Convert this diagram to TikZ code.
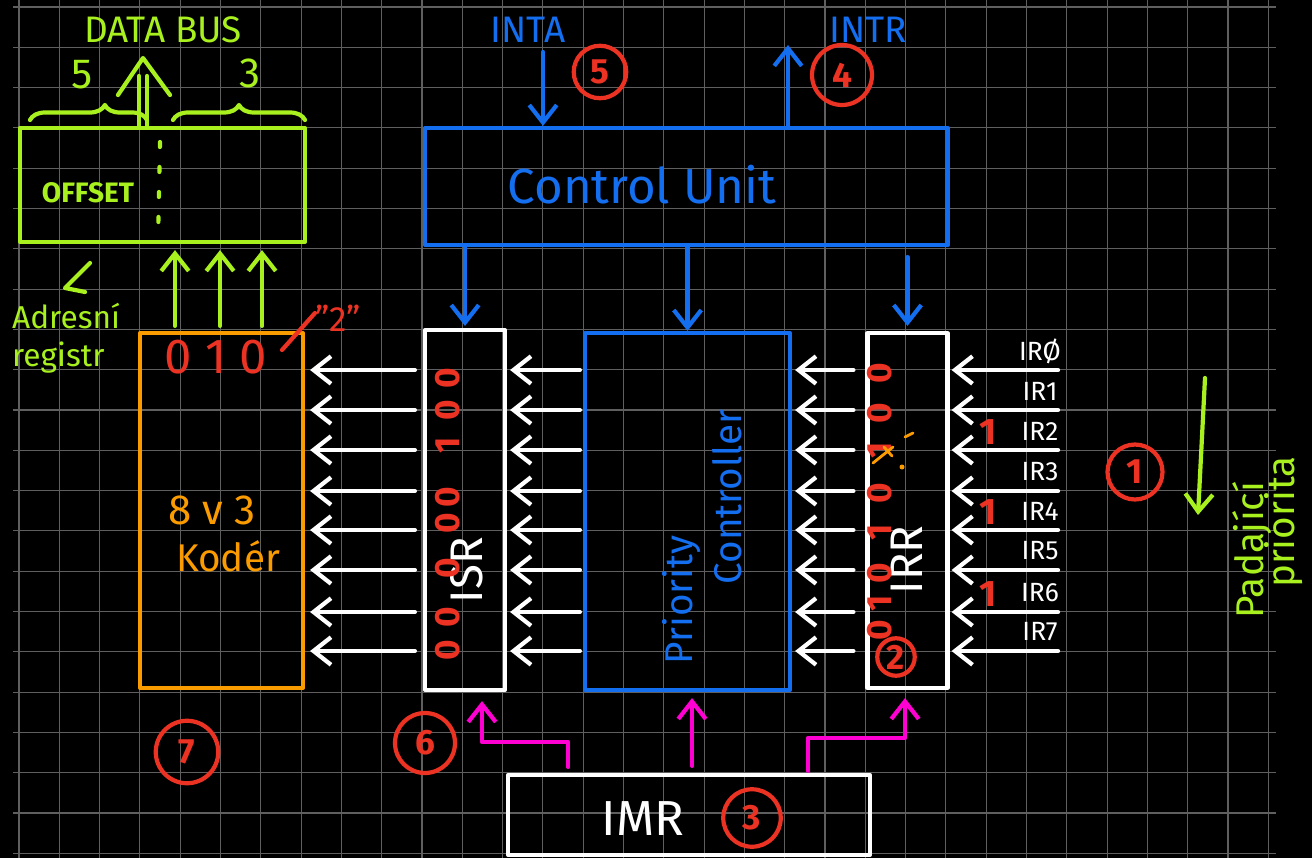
\documentclass[tikz,border=0pt]{standalone}
\usepackage{fontspec}
\setmainfont{Fira Sans}
\usetikzlibrary{arrows.meta,decorations.pathreplacing}

\definecolor{inkgreen}{RGB}{168,240,30}
\definecolor{inkblue}{RGB}{20,110,240}
\definecolor{inkred}{RGB}{235,50,35}
\definecolor{inkorange}{RGB}{250,155,0}
\definecolor{inkpink}{RGB}{255,0,210}
\definecolor{gridgray}{RGB}{95,95,95}

\begin{document}
\begin{tikzpicture}[x=0.02cm,y=-0.02cm,
  ink/.style={line width=2.4pt,line cap=round,line join=round},
  tip/.style={-{Straight Barb[length=3.5mm,width=5.5mm]}},
  box/.style={draw,ink,inner sep=0pt},
  gridline/.style={draw=gridgray,line width=0.6pt},
  num/.style={circle,draw=inkred,text=inkred,line width=2.4pt,inner sep=0pt,font=\fontsize{20}{20}\selectfont\bfseries},
  bit/.style={text=inkred,rotate=90,font=\fontsize{20}{20}\selectfont\bfseries},
  lbl/.style={font=\fontsize{#1}{#1}\selectfont},
  blbl/.style={font=\fontsize{#1}{#1}\selectfont\bfseries}]
  \fill[black] (0,0) rectangle (1312,858);
  \useasboundingbox (0,0) rectangle (1312,858);
  \foreach \k in {0,...,31} \draw[gridline] ({19+40.3*\k},0) -- ({19+40.3*\k},858);
  \foreach \k in {0,...,21} \draw[gridline] (13,{7+40.3*\k}) -- (1276,{7+40.3*\k});

  \node[box,draw=inkgreen,minimum width=5.7cm,minimum height=2.28cm] (off) at (162.5,185) {};
  \node[box,draw=inkblue,minimum width=10.46cm,minimum height=2.34cm] (ctrl) at (686.5,186.5) {};
  \node[box,draw=inkorange,minimum width=3.26cm,minimum height=7.1cm] (enc) at (221.5,510.5) {};
  \node[box,draw=white,minimum width=1.6cm,minimum height=7.2cm] (isr) at (465,510) {};
  \node[box,draw=inkblue,minimum width=4.1cm,minimum height=7.14cm] (prio) at (687.5,511.5) {};
  \node[box,draw=white,minimum width=1.6cm,minimum height=7.1cm] (irr) at (907.5,510.5) {};
  \node[box,draw=white,minimum width=7.24cm,minimum height=1.6cm] (imr) at (689,815) {};

  \node[lbl=21,text=inkgreen] (bustxt) at (163,30) {DATA BUS};
  \node[lbl=24,text=inkgreen] (five) at (82,75) {5};
  \node[lbl=24,text=inkgreen] (three) at (250,73) {3};
  \node[blbl=16,text=inkgreen] (offtxt) at (88,193) {OFFSET};
  \node[lbl=18,text=inkgreen,anchor=west] (adr) at (6,316) {Adresní};
  \node[lbl=18,text=inkgreen,anchor=west] (reg) at (6,358) {registr};
  \node[lbl=21,text=inkblue] (inta) at (528,30) {INTA};
  \node[lbl=21,text=inkblue] (intr) at (868,30) {INTR};
  \node[lbl=28,text=inkblue] (ctrltxt) at (642,185) {Control Unit};
  \node[lbl=28,text=inkred] (code) at (216,357) {0 1 0};
  \node[lbl=20,text=inkred] (two) at (338,318) {"2"};
  \node[lbl=24,text=inkorange] (enctxt) at (212,510) {8 v 3};
  \node[lbl=22,text=inkorange] (kod) at (228,556) {Kodér};
  \node[lbl=26,text=white,rotate=90] (isrtxt) at (467,570) {ISR};
  \node[lbl=26,text=white,rotate=90] (irrtxt) at (907,560) {IRR};
  \node[lbl=28,text=white] (imrtxt) at (643,819) {IMR};
  \node[lbl=22,text=inkblue,rotate=90] (priotxt) at (682,600) {Priority};
  \node[lbl=22,text=inkblue,rotate=90] (conttxt) at (727,497) {Controller};
  \node[lbl=22,text=inkgreen,rotate=90] (pad) at (1252,550) {Padající};
  \node[lbl=22,text=inkgreen,rotate=90] (pri) at (1284,522) {priorita};

  \node[num,minimum size=1.05cm] (n5) at (600,72) {5};
  \node[num,minimum size=1.2cm] (n4) at (842,75) {4};
  \node[num,minimum size=1.1cm] (n1) at (1135,472) {1};
  \node[num,minimum size=0.75cm] (n2) at (896,657) {2};
  \node[num,minimum size=1.15cm] (n3) at (752,818) {3};
  \node[num,minimum size=1.2cm] (n6) at (425,743) {6};
  \node[num,minimum size=1.25cm] (n7) at (187,752) {7};

  \coordinate (bus) at (143,58);
  \coordinate (intain) at (543,52);
  \coordinate (introut) at (788,45);
  \coordinate (prtop) at (1205,378);
  \coordinate (prbot) at (1198,515);

  \draw[ink,inkgreen,decorate,decoration={brace,amplitude=0.3cm,aspect=0.64}] (30,120) -- (147,120);
  \draw[ink,inkgreen,decorate,decoration={brace,amplitude=0.3cm}] (173,120) -- (305,120);
  \draw[ink,inkgreen] (139,0 |- off.north) -- (139,76) (147,0 |- off.north) -- (147,76);
  \draw[ink,inkgreen] (118,95) -- (bus) -- (170,95);
  \draw[ink,inkgreen,dash pattern=on 0.1cm off 0.4cm] (160,142) -- (158,240);
  \foreach \x in {175,220,262}
    \draw[ink,inkgreen,tip,shorten <=0.1cm,shorten >=0.12cm] (\x,0 |- enc.north) -- (\x,0 |- off.south);
  \draw[ink,inkgreen] (90,263) -- (65,288) -- (85,292);
  \draw[ink,inkgreen,tip] (prtop) -- (prbot);

  \draw[ink,inkblue,tip] (intain) -- (543,0 |- ctrl.north);
  \draw[ink,inkblue,tip] (788,0 |- ctrl.north) -- (introut);
  \draw[ink,inkblue,tip,shorten >=0.04cm] (isr.north |- ctrl.south) -- (isr.north);
  \draw[ink,inkblue,tip] (prio.north |- ctrl.south) -- (prio.north);
  \draw[ink,inkblue,tip,shorten <=0.2cm,shorten >=0.1cm] (irr.north |- ctrl.south) -- (irr.north);

  \draw[ink,inkred] (282,350) -- (315,313);

  \foreach \y/\t [count=\i from 0] in {370/Ø,410/1,450/2,491/3,530/4,570/5,612/6,651/7} {
    \coordinate (ir\i) at (1058,\y);
    \draw[ink,white,tip,shorten <=0.16cm,shorten >=0.1cm] (isr.west |- 0,\y) -- (enc.east |- 0,\y);
    \draw[ink,white,tip,shorten <=0.06cm,shorten >=0.06cm] (prio.west |- 0,\y) -- (isr.east |- 0,\y);
    \draw[ink,white,tip,shorten <=0.24cm,shorten >=0.06cm] (irr.west |- 0,\y) -- (prio.east |- 0,\y);
    \draw[ink,white,tip,shorten >=0.04cm] (ir\i) -- (irr.east |- 0,\y);
    \node[lbl=15,text=white] (irl\i) at (1040,\y-19) {IR\t};
  }
  \foreach \y in {450,530,612}
    \node[blbl=21,text=inkred] at (988,\y-18) {1};
  \foreach \b/\y in {0/378,0/410,1/445,0/497,0/523,0/568,0/617,0/650}
    \node[bit] at (448,\y) {\b};
  \foreach \b/\y in {0/373,0/413,1/450,0/493,1/532,0/573,1/603,0/630}
    \node[bit] at (880,\y) {\b};
  \draw[inkorange,line width=1.6pt,line cap=round] (873,463) -- (893,447) (884,447) -- (892,456) (905,437) -- (913,433);
  \fill[inkorange] (902,467) circle (2.5);

  \draw[ink,inkpink,tip,shorten <=0.12cm,shorten >=0.18cm] (568,0 |- imr.north) -- (568,742) -- (482,742) -- (482,0 |- isr.south);
  \draw[ink,inkpink,tip,shorten <=0.14cm,shorten >=0.12cm] (692,0 |- imr.north) -- (692,0 |- prio.south);
  \draw[ink,inkpink,tip,shorten <=0.04cm,shorten >=0.16cm] (808,0 |- imr.north) -- (808,738) -- (905,738) -- (905,0 |- irr.south);
\end{tikzpicture}
\end{document}
